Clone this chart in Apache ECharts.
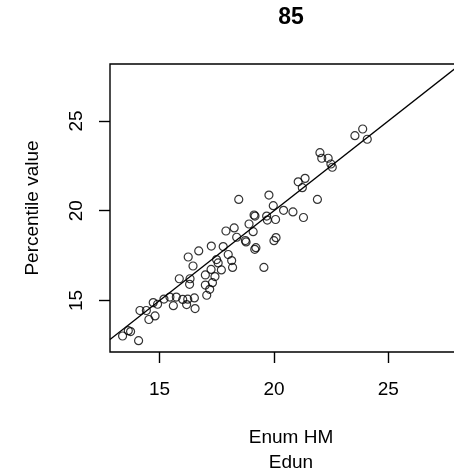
<!DOCTYPE html>
<html>
<head>
<meta charset="utf-8">
<script src="https://cdn.jsdelivr.net/npm/echarts@6/dist/echarts.min.js"></script>
<style>
  html, body { margin: 0; padding: 0; background: #fff; overflow: hidden; }
  #chart { width: 454px; height: 473px; }
</style>
</head>
<body>
<div id="chart"></div>
<script>
// Edun (x) vs Enum HM percentile value (y)
const xVals = [23.54, 23.88, 24.08, 22.01, 22.09, 22.37, 22.49, 22.55, 21.06, 21.36,
  21.24, 18.46, 19.78, 19.97, 21.90, 20.42, 20.83, 21.29, 19.13, 19.17,
  19.68, 19.71, 20.07, 18.91, 17.90, 18.26, 19.09, 18.37, 18.75, 18.78,
  19.16, 19.21, 20.00, 20.09, 19.56, 17.26, 16.71, 16.25, 17.78, 16.46,
  17.49, 17.56, 18.00, 18.15, 18.19, 17.70, 17.25, 15.86, 16.33, 16.31,
  17.00, 17.42, 17.31, 17.00, 17.19, 17.06, 15.19, 15.45, 15.73, 15.60,
  16.01, 16.23, 16.18, 16.52, 16.55, 14.91, 14.72, 14.14, 14.42, 14.53,
  14.80, 13.38, 13.63, 13.73, 14.08]
const yVals = [24.18, 24.55, 23.98, 23.23, 22.92, 22.92, 22.60, 22.42, 21.61, 21.80,
  21.28, 20.63, 20.87, 20.28, 20.63, 20.02, 19.93, 19.62, 19.76, 19.70,
  19.70, 19.48, 19.51, 19.26, 18.87, 19.04, 18.83, 18.52, 18.34, 18.26,
  17.85, 17.94, 18.33, 18.50, 16.84, 18.03, 17.76, 17.42, 18.00, 16.92,
  17.28, 17.09, 17.56, 17.22, 16.84, 16.70, 16.73, 16.21, 16.21, 15.90,
  16.42, 16.33, 15.99, 15.86, 15.62, 15.29, 15.08, 15.19, 15.19, 14.71,
  15.06, 15.07, 14.77, 15.14, 14.55, 14.79, 14.88, 14.44, 14.44, 13.94,
  14.14, 13.02, 13.32, 13.27, 12.76]

const xTicks = [15, 20, 25]
const yTicks = [15, 20, 25]
const xRange = [12.83, 28.66]
const yRange = [12.13, 28.17]

const points = xVals.map((x, i) => [x, yVals[i]])
// reference line y = x across the x range
const idLine = xRange.map(v => [v, v])

const font = 'Liberation Sans, Arial, sans-serif'
const chart = echarts.init(document.getElementById('chart'))

chart.setOption({
  animation: false,
  backgroundColor: '#fff',
  title: {
    text: '85',
    left: 291,
    top: 6,
    padding: 0,
    textAlign: 'center',
    textStyle: { fontFamily: font, fontSize: 23, fontWeight: 'bold', color: '#000' }
  },
  grid: {
    left: 110, top: 64, width: 362, height: 288,
    outerBoundsMode: 'none',
    containLabel: false,
    show: true, borderColor: '#000', borderWidth: 1.4, backgroundColor: 'transparent'
  },
  xAxis: {
    type: 'value',
    min: xRange[0], max: xRange[1],
    name: 'Enum HM\nEdun',
    nameLocation: 'middle',
    nameGap: 73,
    nameTextStyle: { fontFamily: font, fontSize: 19, color: '#000', lineHeight: 25 },
    axisLine: { show: false },
    axisTick: { show: true, length: 11, customValues: xTicks, lineStyle: { color: '#000', width: 1.4 } },
    axisLabel: { customValues: xTicks, margin: 28, fontFamily: font, fontSize: 19, color: '#000' },
    splitLine: { show: false }
  },
  yAxis: {
    type: 'value',
    min: yRange[0], max: yRange[1],
    name: 'Percentile value',
    nameLocation: 'middle',
    nameGap: 68,
    nameTextStyle: { fontFamily: font, fontSize: 19, color: '#000' },
    axisLine: { show: false },
    axisTick: { show: true, length: 11, customValues: yTicks, lineStyle: { color: '#000', width: 1.4 } },
    axisLabel: { customValues: yTicks, rotate: 90, margin: 24, fontFamily: font, fontSize: 19, color: '#000' },
    splitLine: { show: false }
  },
  series: [
    {
      type: 'scatter',
      data: points,
      symbol: 'circle',
      symbolSize: 8,
      itemStyle: { color: 'rgba(0,0,0,0)', borderColor: '#000', borderWidth: 1.2 }
    },
    {
      type: 'line',
      data: idLine,
      symbol: 'none',
      clip: true,
      lineStyle: { color: '#000', width: 1.3 }
    }
  ]
})
</script>
</body>
</html>
